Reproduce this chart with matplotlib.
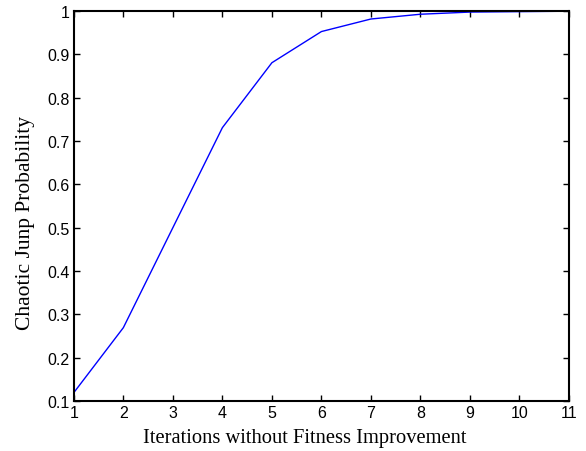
import matplotlib
matplotlib.use("Agg")
import matplotlib.pyplot as plt

iterations = [1, 2, 3, 4, 5, 6, 7, 8, 9, 10, 11]
jump_prob = [0.119, 0.269, 0.500, 0.731, 0.881, 0.953, 0.982, 0.993, 0.998, 0.999, 1.000]

fig = plt.figure(figsize=(5.86, 4.52), dpi=100)
ax = fig.add_axes([0.126, 0.111, 0.845, 0.862])

ax.plot(iterations, jump_prob, color='blue', lw=1.0)

ax.set_xlim(1, 11)
ax.set_ylim(0.1, 1.0)
ax.set_xticks(range(1, 12))
ax.set_yticks([0.1, 0.2, 0.3, 0.4, 0.5, 0.6, 0.7, 0.8, 0.9, 1.0])
ax.set_yticklabels(['0.1', '0.2', '0.3', '0.4', '0.5', '0.6', '0.7', '0.8', '0.9', '1'])

ax.tick_params(direction='in', top=True, right=True, length=4, width=1,
               labelsize=11.5, pad=3)
for lab in ax.get_xticklabels() + ax.get_yticklabels():
    lab.set_fontfamily('Liberation Sans')
for sp in ax.spines.values():
    sp.set_linewidth(1.5)

ax.set_xlabel('Iterations without Fitness Improvement', fontfamily='Liberation Serif',
              fontsize=14.8)
ax.set_ylabel('Chaotic Junp Probability', fontfamily='Liberation Serif',
              fontsize=15.5)
ax.xaxis.set_label_coords(0.467, -0.07)
ax.yaxis.set_label_coords(-0.079, 0.46)

fig.savefig('out.png', dpi=100)
